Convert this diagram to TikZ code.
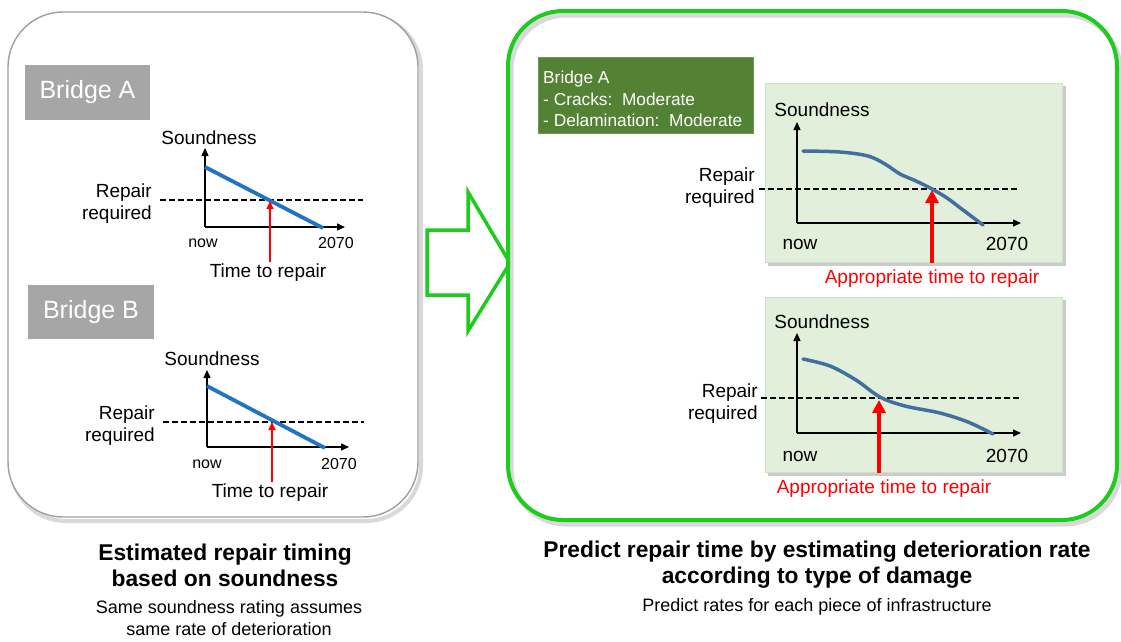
\documentclass[tikz,border=0pt]{standalone}
\usepackage{fontspec}
\setmainfont{Liberation Sans}
\usetikzlibrary{arrows.meta}
\definecolor{boxgray}{HTML}{A6A6A6}
\definecolor{frgreen}{HTML}{1ECC1E}
\definecolor{dkgreen}{HTML}{548235}
\definecolor{panelgreen}{HTML}{E2EFDA}
\definecolor{lblue}{HTML}{1F74C4}
\definecolor{sblue}{HTML}{41709F}
\definecolor{rred}{HTML}{FF0000}
\tikzset{
  lbl/.style={font=\fontsize{19}{22}\selectfont, inner sep=0pt},
  smalllbl/.style={font=\fontsize{16}{18}\selectfont, inner sep=0pt},
  redlbl/.style={font=\fontsize{19}{22}\selectfont, inner sep=0pt, text=rred},
  bridgebox/.style={fill=boxgray, text=white, font=\fontsize{25}{28}\selectfont, inner sep=0pt},
  axisln/.style={line width=1.3pt, -{Triangle[length=8pt,width=7pt]}},
  dashln/.style={line width=1.5pt, dash pattern=on 6pt off 3pt},
  blueln/.style={lblue, line width=3.8pt},
  curveln/.style={sblue, line width=3.5pt, line cap=round},
  redthin/.style={rred, line width=1.5pt, -{Triangle[length=8pt,width=7pt]}},
  redthick/.style={rred, line width=4pt, -{Triangle[length=13pt,width=13pt]}},
  panel/.style={fill=panelgreen, draw=panelgreen!85!gray, line width=0.6pt},
  titletxt/.style={font=\bfseries\fontsize{22.8}{26}\selectfont, align=center, inner sep=0pt},
  subtxt/.style={font=\fontsize{18}{22}\selectfont, align=center, inner sep=0pt},
}
\begin{document}
\begin{tikzpicture}[x=1pt,y=-1pt]
\useasboundingbox (0,0) rectangle (1121,641);
\fill[white] (0,0) rectangle (1121,641);

% ---------------- left frame ----------------
\draw[rounded corners=55pt, gray!30, line width=4pt] (11,15) rectangle (421,521);
\draw[rounded corners=55pt, draw=gray!75, line width=1.4pt, fill=white] (8,12) rectangle (418,517);

% ---------------- arrow ----------------
\draw[frgreen, line width=3.5pt, fill=white, line join=miter]
  (427,230) -- (468,230) -- (468,192) -- (510,263) -- (468,331) -- (468,295) -- (427,295) -- cycle;

% ---------------- right frame ----------------
\draw[rounded corners=55pt, gray!30, line width=5pt] (511,15) rectangle (1120,524);
\draw[rounded corners=55pt, frgreen, line width=4pt] (508,11) rectangle (1117,520);

% ---------------- Bridge A (left) ----------------
\node[bridgebox, minimum width=125pt, minimum height=55pt] (bA) at (87.5,92.5) {Bridge A};
\coordinate (aO) at (205,227);
\coordinate (aY) at (205,148);
\coordinate (aX) at (345,227);
\coordinate (aS) at (205,167);
\coordinate (aE) at (323,228);
\coordinate (aD1) at (160,200);
\coordinate (aD2) at (363,200);
\coordinate (aR1) at (270,262);
\coordinate (aR2) at (270,201);
\draw[dashln] (aD1) -- (aD2);
\draw[axisln] (aO) -- (aY);
\draw[axisln] (aO) -- (aX);
\draw[blueln] (aS) -- (aE);
\draw[redthin] (aR1) -- (aR2);
\node[lbl] (aSnd) at (209,138) {Soundness};
\node[lbl, align=right, anchor=east] (aRep) at (152,204) {Repair\\required};
\node[smalllbl] (aNow) at (203,243) {now};
\node[smalllbl] (aYr) at (336,243) {2070};
\node[lbl] (aTime) at (268,273) {Time to repair};

% ---------------- Bridge B (left) ----------------
\node[bridgebox, minimum width=126pt, minimum height=54pt] (bB) at (91,312) {Bridge B};
\coordinate (bO) at (207,447);
\coordinate (bY) at (207,370);
\coordinate (bX) at (349,447);
\coordinate (bS) at (207,386);
\coordinate (bE) at (325,448);
\coordinate (bD1) at (163,422);
\coordinate (bD2) at (364,422);
\coordinate (bR1) at (272,482);
\coordinate (bR2) at (272,422);
\draw[dashln] (bD1) -- (bD2);
\draw[axisln] (bO) -- (bY);
\draw[axisln] (bO) -- (bX);
\draw[blueln] (bS) -- (bE);
\draw[redthin] (bR1) -- (bR2);
\node[lbl] (bSnd) at (212,359) {Soundness};
\node[lbl, align=right, anchor=east] (bRep) at (155,426) {Repair\\required};
\node[smalllbl] (bNow) at (207,464) {now};
\node[smalllbl] (bYr) at (339,464) {2070};
\node[lbl] (bTime) at (270,493) {Time to repair};

% ---------------- green label ----------------
\node[fill=dkgreen, draw=dkgreen!85!white, minimum width=215pt, minimum height=76pt, inner sep=0pt] (gbox) at (645.5,95) {};
\node[anchor=west, align=left, text=white, inner sep=0pt, font=\fontsize{17.3}{21.5}\selectfont] (gtxt) at (543,99)
  {Bridge A\\- Cracks:\ \ Moderate\\- Delamination:\ \ Moderate};

% ---------------- right chart 1 ----------------
\fill[gray!40] (768,86) rectangle (1066,266);
\node[panel, minimum width=297pt, minimum height=179pt, inner sep=0pt] (p1) at (913.5,172.5) {};
\coordinate (cO) at (797,223);
\coordinate (cY) at (797,122);
\coordinate (cX) at (1021,223);
\coordinate (cD1) at (759,189);
\coordinate (cD2) at (1019,189);
\coordinate (cR1) at (932,263);
\coordinate (cR2) at (932,190);
\draw[dashln] (cD1) -- (cD2);
\draw[axisln] (cO) -- (cY);
\draw[axisln] (cO) -- (cX);
\draw[curveln] plot[smooth, tension=0.55] coordinates
  {(803,151) (840,152) (868,156) (885,164) (900,174) (916,181) (932,189) (947,198) (963,210) (983,225)};
\draw[redthick] (cR1) -- (cR2);
\node[lbl] (cSnd) at (822,110) {Soundness};
\node[lbl, align=right, anchor=east] (cRep) at (755,188) {Repair\\required};
\node[lbl] (cNow) at (800,244) {now};
\node[lbl] (cYr) at (1007,244) {2070};
\node[redlbl] (cApp) at (932,279) {Appropriate time to repair};

% ---------------- right chart 2 ----------------
\fill[gray!40] (768,300) rectangle (1066,476);
\node[panel, minimum width=297pt, minimum height=175pt, inner sep=0pt] (p2) at (913.5,384.5) {};
\coordinate (dO) at (797,433);
\coordinate (dY) at (797,333);
\coordinate (dX) at (1021,433);
\coordinate (dD1) at (761,398);
\coordinate (dD2) at (1019,398);
\coordinate (dR1) at (879,473);
\coordinate (dR2) at (879,400);
\draw[dashln] (dD1) -- (dD2);
\draw[axisln] (dO) -- (dY);
\draw[axisln] (dO) -- (dX);
\draw[curveln] plot[smooth, tension=0.55] coordinates
  {(803,359) (830,366) (856,380) (880,397) (905,406) (940,413) (968,422) (993,434)};
\draw[redthick] (dR1) -- (dR2);
\node[lbl] (dSnd) at (822,322) {Soundness};
\node[lbl, align=right, anchor=east] (dRep) at (758,404) {Repair\\required};
\node[lbl] (dNow) at (800,456) {now};
\node[lbl] (dYr) at (1007,456) {2070};
\node[redlbl] (dApp) at (884,489) {Appropriate time to repair};

% ---------------- captions ----------------
\node[titletxt] (t1) at (225,565) {Estimated repair timing\\based on soundness};
\node[subtxt] (s1) at (229,618) {Same soundness rating assumes\\same rate of deterioration};
\node[titletxt] (t2) at (817,565) {Predict repair time by estimating deterioration rate\\according to type of damage};
\node[subtxt] (s2) at (817,607) {Predict rates for each piece of infrastructure};
\end{tikzpicture}
\end{document}
